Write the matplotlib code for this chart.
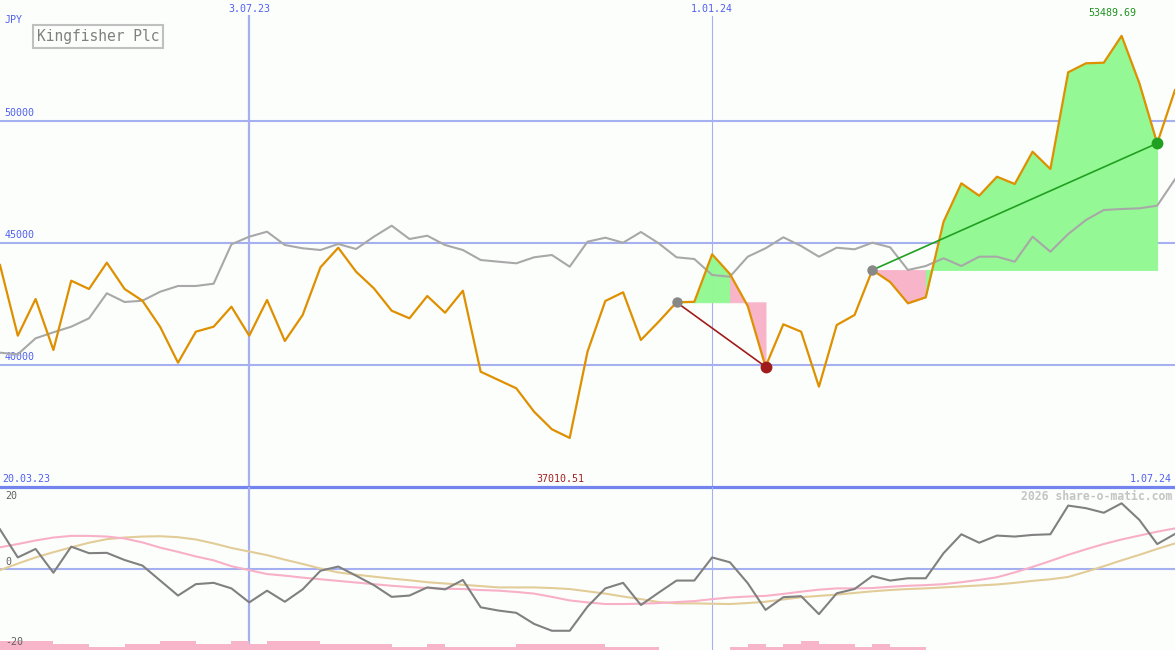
import numpy as np
import pandas as pd
import matplotlib
matplotlib.use("Agg")
import matplotlib.pyplot as plt
import matplotlib.transforms as mtransforms

# weekly closes (JPY), Kingfisher Plc
Dates = pd.date_range("2023-03-27", periods=67, freq="7D")
Price = [44098, 41201, 42705, 40615, 43455, 43115, 44193, 43115, 42635, 41557,
         40094, 41365, 41570, 42389, 41201, 42664, 40984, 42049, 44004, 44807,
         43824, 43143, 42225, 41914, 42828, 42143, 43045, 39725, 39385, 39045,
         38086, 37365, 37010.51, 40545, 42623, 42980, 41025, 41775, 42570, 42590,
         44537, 43730, 42418, 39930, 41668, 41365, 39111, 41639, 42049, 43893,
         43400, 42529, 42775, 45873, 47447, 46939, 47717, 47418, 48742, 48033,
         51996, 52365, 52389, 53489.69, 51545, 49086, 51270]
# grey comparison line
Bench = [40504, 40439, 41094, 41340, 41570, 41914, 42939, 42582, 42635, 43004,
         43238, 43238, 43332, 44947, 45258, 45463, 44918, 44783, 44713, 44959,
         44754, 45258, 45709, 45164, 45299, 44918, 44713, 44303, 44234, 44168,
         44414, 44508, 44029, 45053, 45217, 45012, 45451, 44988, 44414, 44344,
         43689, 43619, 44439, 44783, 45234, 44877, 44439, 44807, 44742, 45012,
         44824, 43893, 44057, 44373, 44057, 44439, 44439, 44234, 45258, 44643,
         45369, 45943, 46352, 46393, 46422, 46529, 47611]

# lower panel
Momentum = [12.0, 3.4, 6.0, -1.3, 6.7, 4.7, 4.8, 2.6, 0.9, -3.7,
            -8.3, -4.8, -4.4, -6.1, -10.4, -6.8, -10.2, -6.4, -0.7, 0.6,
            -2.2, -5.1, -8.7, -8.3, -5.8, -6.4, -3.5, -11.9, -12.9, -13.6,
            -17.0, -19.1, -19.1, -11.7, -6.1, -4.4, -11.2, -7.4, -3.7, -3.7,
            3.4, 1.9, -4.5, -12.7, -8.8, -8.5, -14.0, -7.6, -6.3, -2.3,
            -3.7, -3.0, -3.0, 4.7, 10.5, 7.9, 10.1, 9.8, 10.3, 10.5,
            19.3, 18.5, 17.1, 20.0, 14.9, 7.5, 10.6]
FastAvg = [6.5, 7.5, 8.6, 9.5, 10.0, 10.0, 9.8, 9.2, 8.0, 6.4,
           5.1, 3.7, 2.5, 0.7, -0.5, -1.7, -2.2, -2.8, -3.3, -3.8,
           -4.3, -4.8, -5.3, -5.7, -6.0, -6.2, -6.3, -6.6, -6.8, -7.2,
           -7.7, -8.7, -9.8, -10.4, -10.9, -10.9, -10.8, -10.6, -10.3, -10.0,
           -9.4, -8.9, -8.6, -8.4, -7.8, -7.1, -6.5, -6.1, -6.1, -6.0,
           -5.6, -5.3, -5.1, -4.8, -4.2, -3.5, -2.7, -1.2, 0.5, 2.3,
           4.2, 5.9, 7.5, 8.9, 10.1, 11.3, 12.3]
SlowAvg = [-0.5, 1.5, 3.4, 5.0, 6.5, 7.9, 9.0, 9.5, 9.8, 9.9,
           9.6, 8.9, 7.7, 6.3, 5.2, 4.1, 2.7, 1.4, 0.0, -1.2,
           -1.9, -2.5, -3.1, -3.6, -4.2, -4.6, -5.0, -5.4, -5.8, -5.8,
           -5.8, -6.0, -6.3, -7.0, -7.7, -8.6, -9.4, -10.3, -10.7, -10.7,
           -10.8, -10.9, -10.6, -10.2, -9.5, -8.8, -8.4, -8.0, -7.5, -7.0,
           -6.6, -6.3, -6.1, -5.8, -5.5, -5.2, -4.9, -4.4, -3.8, -3.3,
           -2.6, -1.0, 0.7, 2.5, 4.2, 6.0, 7.7]
Volume = [3, 3, 3, 2, 2, 1, 1, 2, 2, 3, 3, 2, 2, 3, 2, 3, 3, 3, 2, 2,
          2, 2, 1, 1, 2, 1, 1, 1, 1, 2, 2, 2, 2, 2, 1, 1, 1, 0, 0, 0,
          0, 1, 2, 1, 2, 3, 2, 2, 1, 2, 1, 1, 0, 0, 0, 0, 0, 0, 0, 0,
          0, 0, 0, 0, 0, 0, 0]

# signals: (start, end, colour)
Signals = [(38, 43, "#a01c1c"), (49, 65, "#20a020")]
DateMarks = ["2023-07-03", "2024-01-01"]
DateMarkLabels = ["3.07.23", "1.01.24"]
RangeLabels = ["20.03.23", "1.07.24"]
PriceTicks = [40000, 45000, 50000]

BG = "#fcfefc"
GRID = "#a4b0f0"
BLUE_TXT = "#5060ee"
GREEN_FILL = "#94f894"
PINK = "#f8b4c8"
ORANGE = "#de9000"
MONO = "DejaVu Sans Mono"

W, H = 1175, 650
fig = plt.figure(figsize=(W/100, H/100), dpi=100, facecolor=BG)
axTop = fig.add_axes([0, 163/H, 1, 487/H], facecolor=BG)
axBot = fig.add_axes([0, 0, 1, 163/H], facecolor=BG)
for ax in (axTop, axBot):
    ax.set_xlim(Dates[0], Dates[-1])
    ax.set_axis_off()

axTop.set_ylim(35000, 54959)
axBot.set_ylim(-25, 25)

ytrans = mtransforms.blended_transform_factory(axTop.transAxes, axTop.transData)
xtrans = mtransforms.blended_transform_factory(axTop.transData, axTop.transAxes)
for v in PriceTicks:
    axTop.axhline(v, color=GRID, lw=1.5, zorder=1)
    axTop.text(0.004, v + 120, str(v), transform=ytrans,
               color=BLUE_TXT, fontsize=7.2, family=MONO, va="bottom", ha="left")
axTop.axhline(35000, color="#7484ee", lw=2.3, zorder=5, clip_on=False)
axBot.axhline(0, color=GRID, lw=1.5, zorder=1)

# vertical date lines
for d, lab, lw in zip(pd.to_datetime(DateMarks), DateMarkLabels, (1.6, 0.8)):
    axTop.axvline(d, ymax=471/487, color=GRID, lw=lw, zorder=1)
    axBot.axvline(d, color=GRID, lw=lw, zorder=1)
    axTop.text(d, 1 - 9/487, lab, transform=xtrans,
               color=BLUE_TXT, fontsize=7.2, family=MONO, ha="center", va="center")

Price = np.array(Price, dtype=float)
x = np.array(Dates)

# signal fills
for s, e, col in Signals:
    level = Price[s]
    for j in range(s, e):
        c = GREEN_FILL if Price[j+1] >= level else PINK
        axTop.fill_between(x[j:j+2], Price[j:j+2], level, color=c, ec=c, lw=0.6, zorder=2)

axTop.plot(x, Bench, color="#a8a8a8", lw=1.5, zorder=3)
axTop.plot(x, Price, color=ORANGE, lw=1.6, zorder=4)

for s, e, col in Signals:
    axTop.plot([x[s], x[e]], [Price[s], Price[e]], color=col, lw=1.2, zorder=5)
    axTop.plot(x[s], Price[s], "o", color="#888888", ms=7.5, mec="none", zorder=6)
    axTop.plot(x[e], Price[e], "o", color=col, ms=8.5, mec="none", zorder=6)

iMax = int(np.argmax(Price))
iMin = int(np.argmin(Price))
axTop.annotate("%.2f" % Price[iMax], (x[iMax], Price[iMax]), xytext=(-7, 13), textcoords="offset points",
               ha="center", va="bottom", color="#209020", fontsize=7.2, family=MONO)
axTop.annotate("%.2f" % Price[iMin], (x[iMin], 35000), xytext=(-7, 2), textcoords="offset points",
               ha="center", va="bottom", color="#a02020", fontsize=7.2, family=MONO)

# lower panel
axBot.bar(x, np.array(Volume) * 0.92, bottom=-25, width=np.timedelta64(7, "D"), align="edge",
          color=PINK, lw=0, zorder=1)
axBot.plot(x, SlowAvg, color="#e2cc98", lw=1.5, zorder=2)
axBot.plot(x, FastAvg, color="#f8b0c8", lw=1.5, zorder=2)
axBot.plot(x, Momentum, color="#808080", lw=1.5, zorder=3)

# texts
def ftext(px, py, s, **kw):
    fig.text(px / W, 1 - py / H, s, family=MONO, va="center", **kw)

ftext(5, 20, "JPY", color=BLUE_TXT, fontsize=7.2)
ftext(2, 479, RangeLabels[0], color=BLUE_TXT, fontsize=7.2)
ftext(1172, 479, RangeLabels[1], color=BLUE_TXT, fontsize=7.2, ha="right")
ftext(1172, 496, "2026 share-o-matic.com", color="#c4c4c4", fontsize=8.3, ha="right", weight="bold")
ftext(5, 496, "20", color="#606060", fontsize=7.2)
ftext(5, 562, "0", color="#606060", fontsize=7.2)
ftext(5, 642, "-20", color="#606060", fontsize=7.2, zorder=5)
fig.text(37 / W, 1 - 36.5 / H, "Kingfisher Plc", family=MONO, va="center", ha="left", color="#808080", fontsize=10.5,
         bbox=dict(boxstyle="square,pad=0.25", fc=BG, ec="#c0c0c0", lw=1.5))

fig.savefig("out.png", dpi=100, facecolor=BG)
